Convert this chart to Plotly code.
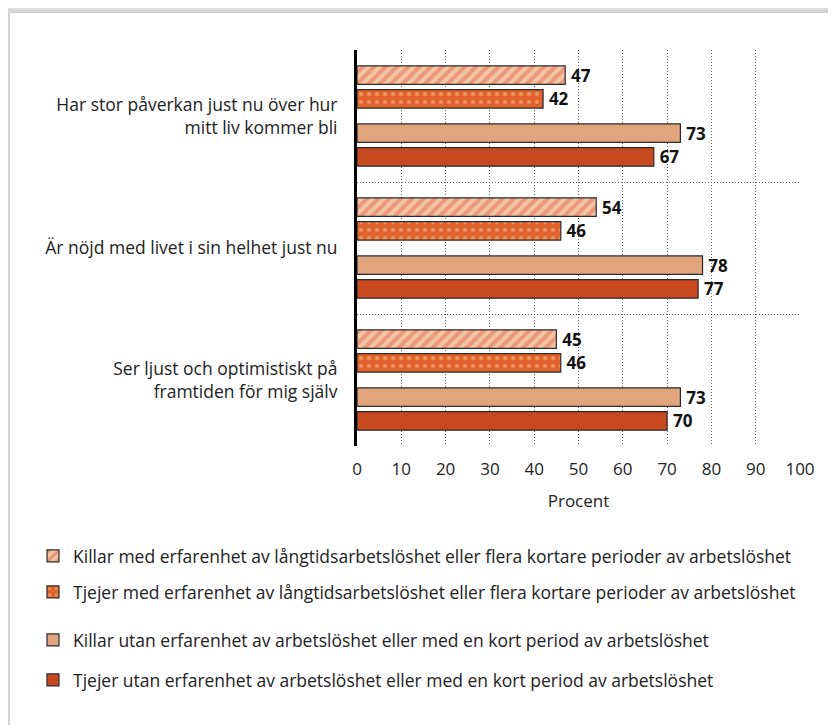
import plotly.graph_objects as go

categories = [
    "Har stor påverkan just nu över hur<br>mitt liv kommer bli",
    "Är nöjd med livet i sin helhet just nu",
    "Ser ljust och optimistiskt på<br>framtiden för mig själv",
]
series_names = [
    "Killar med erfarenhet av långtidsarbetslöshet eller flera kortare perioder av arbetslöshet",
    "Tjejer med erfarenhet av långtidsarbetslöshet eller flera kortare perioder av arbetslöshet",
    "Killar utan erfarenhet av arbetslöshet eller med en kort period av arbetslöshet",
    "Tjejer utan erfarenhet av arbetslöshet eller med en kort period av arbetslöshet",
]
killar_med = [47, 54, 45]
tjejer_med = [42, 46, 46]
killar_utan = [73, 78, 73]
tjejer_utan = [67, 77, 70]
x_ticks = [0, 10, 20, 30, 40, 50, 60, 70, 80, 90, 100]

W, H = 836, 725
BX, BY = 8, 8  # page body offset
# plot area in screen pixels: x 357..800, y 50..446
ML, MT = 357 - BX, 50 - BY
MR, MB = W - (800 - BX), H - (446 - BY)
PW, PH = W - ML - MR, H - MT - MB

FONT = "Open Sans, Noto Sans, sans-serif"
OUTLINE = dict(color="#2b2b2b", width=1.2)

styles = [
    dict(color="#f3c6a3", pattern=dict(shape="/", fgcolor="#e2694e", size=8, solidity=0.5)),
    dict(color="#e0642b", pattern=dict(shape=".", fgcolor="#f6c2a4", size=8, solidity=0.2)),
    dict(color="#e0a57d"),
    dict(color="#c8481f"),
]
offsets = [-0.38, -0.20, 0.06, 0.24]
legend_y = [556, 592, 640, 680]


def px_x(px):
    return (px - BX - ML) / PW


def px_y(py):
    return (MT + PH - (py - BY)) / PH


fig = go.Figure()
for i, vals in enumerate([killar_med, tjejer_med, killar_utan, tjejer_utan]):
    lg = "legend" if i == 0 else f"legend{i + 1}"
    fig.add_trace(
        go.Bar(
            y=categories,
            x=vals,
            orientation="h",
            name=series_names[i],
            offset=offsets[i],
            width=0.14,
            marker=dict(line=OUTLINE, **styles[i]),
            texttemplate="\u2009%{x}",
            textposition="outside",
            constraintext="none",
            textfont=dict(family=FONT, size=17, color="#111111", weight="bold"),
            cliponaxis=False,
            legend=lg,
        )
    )

# card shadow
shapes = []
for k in range(7):
    shapes.append(dict(type="rect", xref="paper", yref="paper", layer="below",
                       x0=px_x(k * 1.5), y0=px_y(H + 60), x1=px_x(W + 60), y1=px_y(k * 2.0),
                       fillcolor="rgba(0,0,0,0.028)", line=dict(width=0)))
shapes.append(dict(type="rect", xref="paper", yref="paper", layer="below",
                   x0=px_x(10), y0=px_y(H + 60), x1=px_x(W + 60), y1=px_y(13),
                   fillcolor="white", line=dict(width=0)))

legends = {}
for i, py in enumerate(legend_y):
    key = "legend" if i == 0 else f"legend{i + 1}"
    legends[key] = dict(
        xref="paper", yref="paper",
        x=px_x(33), y=px_y(py), xanchor="left", yanchor="middle",
        bgcolor="rgba(0,0,0,0)", borderwidth=0,
        font=dict(family=FONT, size=17.5, color="#222222"),
        itemwidth=30,
    )

fig.update_layout(
    width=W, height=H,
    margin=dict(l=ML, r=MR, t=MT, b=MB, autoexpand=False),
    paper_bgcolor="white",
    plot_bgcolor="rgba(0,0,0,0)",
    barmode="overlay",
    showlegend=True,
    shapes=shapes,
    font=dict(family=FONT, color="#222222"),
    **legends,
)
fig.update_xaxes(
    range=[0, 100], tickvals=x_ticks, showgrid=True, griddash="1px,2px",
    gridcolor="#666666", gridwidth=1, zeroline=False, showline=False,
    ticks="", ticklabelstandoff=11,
    tickfont=dict(family=FONT, size=17, color="#222222"),
    title=dict(text="Procent", font=dict(family=FONT, size=17, color="#222222"), standoff=16),
)
fig.update_yaxes(
    autorange="reversed", tickson="boundaries", showgrid=True, griddash="1px,2px",
    gridcolor="#666666", gridwidth=1, showline=True, linecolor="black", linewidth=3,
    ticks="", ticklabelstandoff=13,
    tickfont=dict(family=FONT, size=17.5, color="#222222"),
)

fig.write_html("out.html")
